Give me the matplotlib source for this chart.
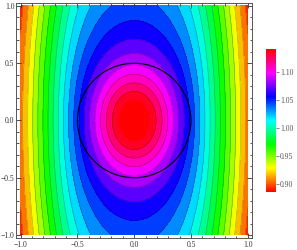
import numpy as np
import matplotlib
matplotlib.use("Agg")
import matplotlib.pyplot as plt
from matplotlib.colors import ListedColormap, Normalize, hsv_to_rgb
from matplotlib.patches import Circle
from matplotlib.cm import ScalarMappable

# ---- data / model parameters ----
# value profile along y = 0: P(a) = P0 - S*sqrt(a^2 + E^2)
P0 = 1.2
S = 0.29
E = 0.15
# each contour is an ellipse x^2/a^2 + y^2/(a*k(a))^2 = 1,
# aspect k(a) = K_IN + K_GAIN / (1 + exp(-(a - K_MID)/K_W))
K_IN = 1.3
K_GAIN = 1.9
K_MID = 0.57
K_W = 0.08
# colour range and number of contour levels
F_MIN = 0.886
F_MAX = 1.142
N_LEVELS = 19
CIRCLE_R = 0.5
x_ticks = [-1.0, -0.5, 0.0, 0.5, 1.0]
y_ticks = [-1.0, -0.5, 0.0, 0.5, 1.0]
cbar_ticks = [0.90, 0.95, 1.00, 1.05, 1.10]
cbar_labels = ["0.90", "0.95", "1.00", "1.05", "1.10"]

plt.rcParams['font.family'] = ['Liberation Serif', 'DejaVu Serif']


def aspect(a):
    return K_IN + K_GAIN / (1 + np.exp(-(a - K_MID) / K_W))


def profile(a):
    return P0 - S * np.sqrt(a**2 + E**2)


x = np.linspace(-1, 1, 401)
y = np.linspace(-1, 1, 401)
X, Y = np.meshgrid(x, y)

lo = np.full(X.shape, 1e-6)
hi = np.full(X.shape, 2.0)
for _ in range(50):
    mid = 0.5 * (lo + hi)
    g = (X / mid)**2 + (Y / (mid * aspect(mid)))**2 - 1
    lo = np.where(g > 0, mid, lo)
    hi = np.where(g > 0, hi, mid)
A = 0.5 * (lo + hi)
F = profile(A)

hues = np.linspace(0, 1, 512)
cmap = ListedColormap(hsv_to_rgb(np.stack([hues, np.ones_like(hues), np.ones_like(hues)], axis=1)))
cmap = cmap.with_extremes(under=cmap(0.0), over=cmap(1.0))
norm = Normalize(F_MIN, F_MAX)
levels = np.linspace(F_MIN, F_MAX, N_LEVELS + 2)

fig = plt.figure(figsize=(2.97, 2.5), dpi=100)
ax = fig.add_axes([0.0544, 0.0486, 0.7949, 0.9389])
ax.contourf(X, Y, F, levels=levels, cmap=cmap, norm=norm, extend='both')
ax.contour(X, Y, F, levels=levels[1:-1], colors='k', linewidths=0.4, alpha=0.35)
ax.add_patch(Circle((0, 0), CIRCLE_R, fill=False, edgecolor='black', linewidth=0.8))
ax.set_xlim(-1.04, 1.04)
ax.set_ylim(-1.025, 1.025)

ax.set_xticks(x_ticks)
ax.set_yticks(y_ticks)
ax.set_xticklabels([f"{v:.1f}".replace('-', '\u2212') for v in x_ticks])
ax.set_yticklabels([f"{v:.1f}".replace('-', '\u2212') for v in y_ticks])
ax.set_xticks(np.arange(-1.0, 1.01, 0.1), minor=True)
ax.set_yticks(np.arange(-1.0, 1.01, 0.1), minor=True)
ax.tick_params(which='both', direction='in', top=True, right=True, colors='#333333',
               labelsize=5.5, width=0.6)
ax.tick_params(which='major', length=3.5)
ax.tick_params(axis='x', which='major', pad=2)
ax.tick_params(axis='y', which='major', pad=1.2)
ax.tick_params(which='minor', length=1.8)
for sp in ax.spines.values():
    sp.set_color('#555555')
    sp.set_linewidth(0.7)

cax = fig.add_axes([0.8956, 0.232, 0.0337, 0.572])
sm = ScalarMappable(norm=norm, cmap=cmap)
cb = fig.colorbar(sm, cax=cax)
cb.outline.set_visible(False)
cb.set_ticks(cbar_ticks)
cb.set_ticklabels(cbar_labels)
cax.tick_params(labelsize=5.5, length=2, width=0.5, colors='#555555', pad=1)

fig.savefig("out.png", dpi=100)
